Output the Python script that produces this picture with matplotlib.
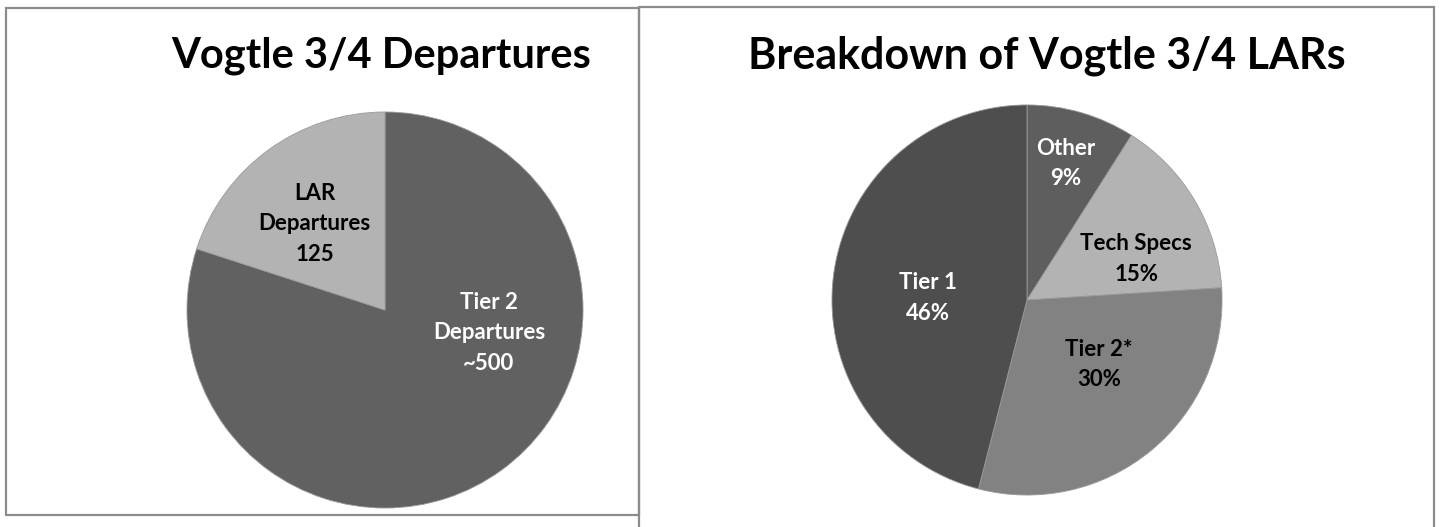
"""Two pie charts: Vogtle 3/4 departures and LAR breakdown."""

import matplotlib

matplotlib.use("Agg")
import matplotlib.pyplot as plt
from matplotlib.patches import Rectangle

plt.rcParams["font.family"] = ["Lato", "DejaVu Sans"]

W, H = 1440, 527

# left chart
dep_labels = ["Tier 2\nDepartures\n~500", "LAR\nDepartures\n125"]
dep_values = [500, 125]
dep_colors = ["#616161", "#b3b3b3"]
dep_text_colors = ["white", "black"]
dep_label_pos = [(0.525, -0.115), (-0.355, 0.435)]

# right chart
lar_labels = ["Other\n9%", "Tech Specs\n15%", "Tier 2*\n30%", "Tier 1\n46%"]
lar_values = [9, 15, 30, 46]
lar_colors = ["#5e5e5e", "#b3b3b3", "#828282", "#4e4e4e"]
lar_text_colors = ["white", "black", "black", "white"]
lar_label_pos = [(0.20, 0.70), (0.56, 0.21), (0.37, -0.33), (-0.51, 0.01)]


def px_axes(fig, cx, cy, r):
    """Square axes centred on pixel (cx, cy) from the top-left."""
    return fig.add_axes([(cx - r) / W, (H - cy - r) / H, 2 * r / W, 2 * r / H])


def draw_pie(ax, values, colors, labels, text_colors, positions):
    ax.pie(
        values,
        colors=colors,
        startangle=90,
        counterclock=False,
        radius=1,
        wedgeprops={"edgecolor": "#9a9a9a", "linewidth": 0.6},
    )
    for text, color, (x, y) in zip(labels, text_colors, positions):
        ax.text(x, y, text, ha="center", va="center", color=color,
                fontsize=16, fontweight="bold", linespacing=1.55)
    ax.set_xlim(-1.01, 1.01)
    ax.set_ylim(-1.01, 1.01)
    ax.set_aspect("equal")
    ax.axis("off")


fig = plt.figure(figsize=(W / 100, H / 100), dpi=100)

# panel borders
for x0, y0, x1, y1 in [(6, 8, 639, 515), (639, 7, 1434, 540)]:
    fig.patches.append(Rectangle(
        (x0 / W, 1 - y1 / H), (x1 - x0) / W, (y1 - y0) / H,
        transform=fig.transFigure, fill=False, edgecolor="#8c8c8c",
        linewidth=1.6, zorder=0,
    ))

ax1 = px_axes(fig, 385, 310, 200)
draw_pie(ax1, dep_values, dep_colors, dep_labels, dep_text_colors, dep_label_pos)

ax2 = px_axes(fig, 1027, 300, 197)
draw_pie(ax2, lar_values, lar_colors, lar_labels, lar_text_colors, lar_label_pos)

fig.text(381 / W, 1 - 56 / H, "Vogtle 3/4 Departures", ha="center", va="center",
         fontsize=30, fontweight="bold")
fig.text(1047 / W, 1 - 56 / H, "Breakdown of Vogtle 3/4 LARs", ha="center",
         va="center", fontsize=31, fontweight="bold")

fig.savefig("out.png", dpi=100)
